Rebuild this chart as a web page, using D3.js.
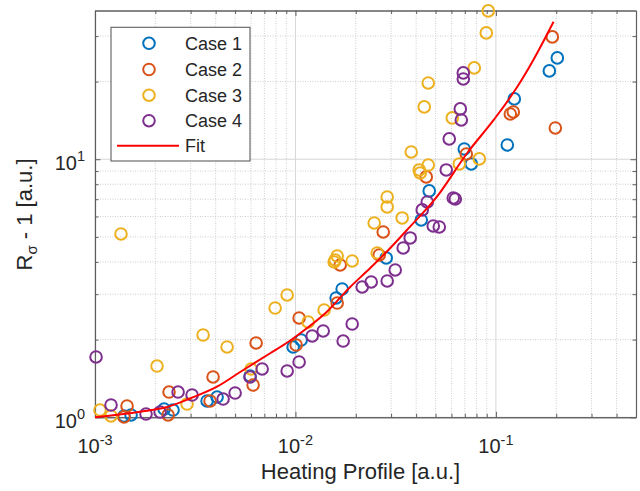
<!DOCTYPE html>
<html>
<head>
<meta charset="utf-8">
<script src="https://cdn.jsdelivr.net/npm/d3@7/dist/d3.min.js"></script>
<style>
  html, body { margin: 0; padding: 0; background: #fff; }
  svg { display: block; font-family: "Liberation Sans", Arial, Helvetica, sans-serif; }
</style>
</head>
<body>
<svg id="chart" width="640" height="491"></svg>
<script>
// ---------- data ----------
const seriesNames = ["Case 1", "Case 2", "Case 3", "Case 4"];
const seriesColors = ["#0072BD", "#D95319", "#EDB120", "#7E2F8E"];

const case1X = [0.001396, 0.001513, 0.002211, 0.002451, 0.003624, 0.004065, 0.005939, 0.009739, 0.01068, 0.01596,
                0.01710, 0.02836, 0.04242, 0.04650, 0.06955, 0.07538, 0.1140, 0.1235, 0.1848, 0.2025];
const case1Y = [1.012, 1.021, 1.077, 1.067, 1.157, 1.198, 1.446, 1.873, 1.993, 2.900,
                3.143, 4.144, 5.818, 7.538, 10.96, 9.59, 11.36, 17.13, 21.99, 24.70];

const case2X = [0.001445, 0.001396, 0.002341, 0.002315, 0.003882, 0.003750, 0.006364, 0.006149, 0.01043, 0.01008,
                0.01615, 0.01672, 0.02618, 0.02741, 0.04493, 0.07117, 0.1180, 0.1221, 0.1912, 0.1979];
const case2Y = [1.106, 1.003, 1.253, 1.021, 1.433, 1.157, 1.941, 1.334, 2.426, 1.906,
                2.773, 3.893, 4.256, 5.227, 8.541, 10.48, 14.98, 15.25, 29.79, 13.22];

const case3X = [0.001059, 0.001202, 0.001348, 0.002039, 0.002879, 0.003461, 0.004560, 0.006009, 0.007918, 0.009092,
                0.01157, 0.01390, 0.01578, 0.01615, 0.01560, 0.01919, 0.02558, 0.02471, 0.02869, 0.02869,
                0.03408, 0.03781, 0.04145, 0.04194, 0.04597, 0.04390, 0.04597, 0.06059, 0.06568, 0.08263,
                0.07801, 0.08954, 0.09162];
const case3Y = [1.067, 1.012, 5.134, 1.580, 1.126, 2.084, 1.873, 1.539, 2.652, 2.979,
                2.341, 2.605, 4.071, 4.218, 3.999, 4.035, 4.334, 5.664, 7.143, 6.534,
                5.923, 10.67, 9.09, 8.85, 9.50, 15.95, 19.75, 14.46, 9.59, 10.03,
                22.59, 30.87, 37.57];

const case4X = [0.001012, 0.001202, 0.001797, 0.002112, 0.002597, 0.003050, 0.004355, 0.005000, 0.005939, 0.006821,
                0.009092, 0.01043, 0.01212, 0.01375, 0.01730, 0.01919, 0.02153, 0.02387, 0.02869, 0.03146,
                0.03448, 0.03737, 0.04291, 0.04545, 0.04870, 0.05218, 0.05655, 0.05852, 0.06129, 0.06271,
                0.06644, 0.06720, 0.06877, 0.06877];
const case4Y = [1.713, 1.116, 1.030, 1.048, 1.253, 1.220, 1.177, 1.242, 1.433, 1.539,
                1.512, 1.638, 2.066, 2.161, 1.975, 2.299, 3.199, 3.345, 3.375, 3.724,
                4.531, 4.955, 6.362, 6.831, 5.514, 5.465, 9.09, 11.99, 7.079, 7.016,
                15.67, 14.20, 21.60, 20.47];

const fitX = [0.001, 0.00168, 0.00229, 0.00298, 0.00406, 0.0053, 0.00748, 0.00923, 0.0114, 0.01436,
              0.01876, 0.0227, 0.02805, 0.036, 0.0508, 0.0718, 0.0975, 0.1274, 0.154, 0.194];
const fitY = [1.0, 1.051, 1.096, 1.183, 1.314, 1.498, 1.771, 1.963, 2.213, 2.566,
              3.199, 3.68, 4.32, 5.32, 7.16, 10.55, 14.2, 19.0, 24.3, 34.1];

const xMajorTicks = [1e-3, 1e-2, 1e-1];
const xTickExp = ["-3", "-2", "-1"];
const yMajorTicks = [1, 10];
const yTickExp = ["0", "1"];
const xDomain = [1e-3, 0.5];
const yDomain = [1, 37.7];

const xLabel = "Heating Profile [a.u.]";
const fitName = "Fit";

// ---------- layout ----------
const svg = d3.select("#chart");
const L = 95, R = 636, T = 10.5, B = 417.3;
const x = d3.scaleLog().domain(xDomain).range([L, R]);
const y = d3.scaleLog().domain(yDomain).range([B, T]);

const axisColor = "#5e5e5e";
const textColor = "#262626";

// minor tick values
const xMinor = [];
[1e-3, 1e-2, 1e-1].forEach(d => { for (let k = 2; k <= 9; k++) { const v = k * d; if (v < xDomain[1] * 0.999) xMinor.push(v); } });
const yMinor = [];
[1, 10].forEach(d => { for (let k = 2; k <= 9; k++) { const v = k * d; if (v < yDomain[1]) yMinor.push(v); } });

// ---------- grid ----------
const grid = svg.append("g");
grid.selectAll("line.xmin").data(xMinor).join("line")
  .attr("x1", d => x(d)).attr("x2", d => x(d)).attr("y1", T).attr("y2", B)
  .attr("stroke", "#c8c8c8").attr("stroke-width", 0.9).attr("stroke-dasharray", "1,1.5");
grid.selectAll("line.ymin").data(yMinor).join("line")
  .attr("y1", d => y(d)).attr("y2", d => y(d)).attr("x1", L).attr("x2", R)
  .attr("stroke", "#c8c8c8").attr("stroke-width", 0.9).attr("stroke-dasharray", "1,1.5");
grid.selectAll("line.xmaj").data(xMajorTicks).join("line")
  .attr("x1", d => x(d)).attr("x2", d => x(d)).attr("y1", T).attr("y2", B)
  .attr("stroke", "#d6d6d6").attr("stroke-width", 1);
grid.selectAll("line.ymaj").data(yMajorTicks).join("line")
  .attr("y1", d => y(d)).attr("y2", d => y(d)).attr("x1", L).attr("x2", R)
  .attr("stroke", "#d6d6d6").attr("stroke-width", 1);

// ---------- axes (ticks inside, box) ----------
function styleAxis(g) {
  g.selectAll("path.domain").attr("stroke", axisColor).attr("stroke-width", 1.1);
  g.selectAll(".tick line").attr("stroke", axisColor).attr("stroke-width", 1);
  g.selectAll(".tick text").remove();
}
const majLen = 5.5, minLen = 3.5;
svg.append("g").attr("transform", `translate(0,${B})`)
  .call(d3.axisBottom(x).tickValues(xMajorTicks).tickSize(-majLen).tickSizeOuter(0)).call(styleAxis);
svg.append("g").attr("transform", `translate(0,${B})`)
  .call(d3.axisBottom(x).tickValues(xMinor).tickSize(-minLen).tickSizeOuter(0)).call(styleAxis);
svg.append("g").attr("transform", `translate(0,${T})`)
  .call(d3.axisTop(x).tickValues(xMajorTicks).tickSize(-majLen).tickSizeOuter(0)).call(styleAxis);
svg.append("g").attr("transform", `translate(0,${T})`)
  .call(d3.axisTop(x).tickValues(xMinor).tickSize(-minLen).tickSizeOuter(0)).call(styleAxis);
svg.append("g").attr("transform", `translate(${L},0)`)
  .call(d3.axisLeft(y).tickValues(yMajorTicks).tickSize(-majLen).tickSizeOuter(0)).call(styleAxis);
svg.append("g").attr("transform", `translate(${L},0)`)
  .call(d3.axisLeft(y).tickValues(yMinor).tickSize(-minLen).tickSizeOuter(0)).call(styleAxis);
svg.append("g").attr("transform", `translate(${R},0)`)
  .call(d3.axisRight(y).tickValues(yMajorTicks).tickSize(-majLen).tickSizeOuter(0)).call(styleAxis);
svg.append("g").attr("transform", `translate(${R},0)`)
  .call(d3.axisRight(y).tickValues(yMinor).tickSize(-minLen).tickSizeOuter(0)).call(styleAxis);

// ---------- tick labels ----------
const xt = svg.append("g").selectAll("text").data(xMajorTicks).join("text")
  .attr("x", d => x(d)).attr("y", B + 36)
  .attr("text-anchor", "middle").attr("fill", textColor).attr("font-size", 20);
xt.append("tspan").text("10");
xt.append("tspan").attr("dy", -8).attr("font-size", 14.5).text((d, i) => xTickExp[i]);

const yt = svg.append("g").selectAll("text").data(yMajorTicks).join("text")
  .attr("x", 85).attr("y", d => y(d) + 11)
  .attr("text-anchor", "end").attr("fill", textColor).attr("font-size", 20);
yt.append("tspan").text("10");
yt.append("tspan").attr("dy", -9).attr("font-size", 14.5).text((d, i) => yTickExp[i]);

// ---------- axis labels ----------
svg.append("text").attr("x", (L + R) / 2 - 5).attr("y", 479)
  .attr("text-anchor", "middle").attr("fill", textColor).attr("font-size", 22).text(xLabel);

const yl = svg.append("text").attr("transform", `translate(32,214.5) rotate(-90)`)
  .attr("text-anchor", "middle").attr("fill", textColor).attr("font-size", 22);
yl.append("tspan").text("R");
yl.append("tspan").attr("dy", 5).attr("font-size", 15).text("σ");
yl.append("tspan").attr("dy", -5).text(" - 1 [a.u.]");

// ---------- data ----------
const series = [
  { xs: case1X, ys: case1Y },
  { xs: case2X, ys: case2Y },
  { xs: case3X, ys: case3Y },
  { xs: case4X, ys: case4Y }
];
series.forEach((s, si) => {
  const pts = s.xs.map((v, i) => [v, s.ys[i]]);
  svg.append("g").selectAll("circle").data(pts).join("circle")
    .attr("cx", d => x(d[0])).attr("cy", d => y(d[1])).attr("r", 5.8)
    .attr("fill", "none").attr("stroke", seriesColors[si]).attr("stroke-width", 2);
});

const fitPts = fitX.map((v, i) => [v, fitY[i]]);
svg.append("path").datum(fitPts)
  .attr("d", d3.line().x(d => x(d[0])).y(d => y(d[1])).curve(d3.curveMonotoneX))
  .attr("fill", "none").attr("stroke", "#FF0000").attr("stroke-width", 2);

// ---------- legend ----------
const lg = svg.append("g");
lg.append("rect").attr("x", 111).attr("y", 27.3).attr("width", 139).attr("height", 133.7)
  .attr("fill", "#fff").attr("stroke", axisColor).attr("stroke-width", 1.1);
const rowY = [43.3, 69.5, 95.2, 120.7];
seriesNames.forEach((n, i) => {
  lg.append("circle").attr("cx", 149).attr("cy", rowY[i]).attr("r", 5.8)
    .attr("fill", "none").attr("stroke", seriesColors[i]).attr("stroke-width", 2);
  lg.append("text").attr("x", 185).attr("y", rowY[i] + 6.5).attr("font-size", 18)
    .attr("fill", textColor).text(n);
});
lg.append("line").attr("x1", 117).attr("x2", 179).attr("y1", 145.7).attr("y2", 145.7)
  .attr("stroke", "#FF0000").attr("stroke-width", 2);
lg.append("text").attr("x", 185).attr("y", 145.7 + 6.5).attr("font-size", 18)
  .attr("fill", textColor).text(fitName);
</script>
</body>
</html>
